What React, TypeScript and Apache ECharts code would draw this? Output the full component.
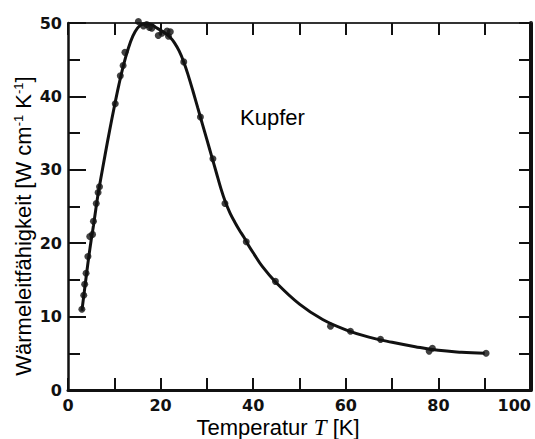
import React, { useEffect, useRef } from "react";
import * as echarts from "echarts";

// Fitted curve (T in K, conductivity in W cm^-1 K^-1)
const tCurve = [3, 3.5, 4, 4.5, 5, 5.5, 6, 6.5, 7, 8, 9, 10, 11, 12, 13, 14, 15, 16, 17, 18, 19, 20, 21, 22, 23, 24, 25, 26, 27, 28, 29, 30, 31, 32, 33, 34, 35, 36, 37, 38, 39, 40, 42, 45, 50, 55, 60, 65, 70, 75, 80, 85, 90];
const kCurve = [10.8, 13.3, 15.8, 18.2, 20.4, 22.4, 24.6, 26.7, 28.5, 32.0, 35.4, 38.6, 41.6, 44.3, 46.5, 48.2, 49.3, 49.8, 49.9, 49.8, 49.4, 49.0, 48.6, 48.1, 47.3, 46.2, 44.7, 42.8, 40.7, 38.5, 36.3, 34.1, 31.9, 29.7, 27.5, 25.6, 24.1, 22.9, 21.8, 20.8, 19.7, 18.7, 16.8, 14.6, 11.7, 9.6, 8.2, 7.2, 6.5, 5.9, 5.4, 5.15, 5.0];

// Measured points
const tPts = [3.0, 3.4, 3.6, 3.9, 4.3, 4.7, 5.3, 5.5, 6.1, 6.5, 6.8, 10.2, 11.3, 11.9, 12.3, 15.2, 16.3, 17.0, 17.6, 18.1, 19.5, 20.3, 21.4, 21.7, 22.1, 25.0, 28.6, 31.3, 33.9, 38.5, 44.8, 56.7, 61.0, 67.5, 78.0, 78.7, 90.3];
const kPts = [11.0, 12.9, 14.4, 15.9, 18.2, 20.9, 21.2, 23.0, 25.4, 26.9, 27.7, 39.0, 42.8, 44.2, 46.0, 50.2, 49.6, 49.8, 49.4, 49.3, 48.3, 48.6, 48.9, 48.2, 48.8, 44.7, 37.2, 31.5, 25.4, 20.2, 14.8, 8.7, 8.0, 6.9, 5.3, 5.7, 5.0];

const xLabelStep = 20;
const materialLabel = "Kupfer";
const xTitle = "Temperatur {it|T} [K]";
const yTitle = "Wärmeleitfähigkeit [W cm{sup|-1} K{sup|-1}]";

const INK = "#111";
const FONT = "Liberation Sans";
const TICK_FONT = "DejaVu Sans";

export default function App() {
  const ref = useRef<HTMLDivElement>(null);

  useEffect(() => {
    if (!ref.current) return;
    const chart = echarts.init(ref.current, null, { renderer: "svg" });

    const curve = tCurve.map((t, i) => [t, kCurve[i]]);
    const pts = tPts.map((t, i) => [t, kPts[i]]);

    const tickStyle = { color: INK, width: 2 };

    chart.setOption({
      animation: false,
      backgroundColor: "#fff",
      grid: {
        left: 68,
        right: 4,
        top: 23,
        bottom: 49,
        containLabel: false,
        outerBoundsMode: "none",
      },
      xAxis: [
        {
          type: "value",
          min: 0,
          max: 100,
          interval: 10,
          position: "bottom",
          axisLine: { show: true, onZero: false, lineStyle: { color: INK, width: 3 } },
          axisTick: { show: true, inside: true, length: 12, lineStyle: tickStyle },
          axisLabel: {
            margin: 7,
            color: INK,
            fontFamily: TICK_FONT,
            fontWeight: "bold",
            fontSize: 16,
            hideOverlap: false,
            alignMaxLabel: "right",
            formatter: (v: number) => (v % xLabelStep === 0 ? String(v) : ""),
          },
          splitLine: { show: false },
        },
        {
          type: "value",
          min: 0,
          max: 100,
          interval: 10,
          position: "top",
          axisLine: { show: true, onZero: false, lineStyle: { color: "#333", width: 2 } },
          axisTick: { show: true, inside: true, length: 12, lineStyle: tickStyle },
          axisLabel: { show: false },
          splitLine: { show: false },
        },
      ],
      yAxis: [
        {
          type: "value",
          min: 0,
          max: 50,
          interval: 10,
          position: "left",
          axisLine: { show: true, onZero: false, lineStyle: { color: INK, width: 2.5 } },
          axisTick: { show: true, inside: true, length: 18, lineStyle: tickStyle },
          minorTick: { show: true, splitNumber: 2, length: 12, lineStyle: tickStyle },
          axisLabel: {
            margin: 6,
            color: INK,
            fontFamily: TICK_FONT,
            fontWeight: "bold",
            fontSize: 16,
          },
          splitLine: { show: false },
        },
        {
          type: "value",
          min: 0,
          max: 50,
          interval: 5,
          position: "right",
          axisLine: { show: true, onZero: false, lineStyle: { color: INK, width: 4 } },
          axisTick: { show: true, inside: true, length: 12, lineStyle: tickStyle },
          axisLabel: { show: false },
          splitLine: { show: false },
        },
      ],
      series: [
        {
          type: "line",
          data: curve,
          xAxisIndex: 0,
          yAxisIndex: 0,
          smooth: 0.4,
          showSymbol: false,
          lineStyle: { color: INK, width: 3 },
          clip: false,
          silent: true,
        },
        {
          type: "scatter",
          data: pts,
          xAxisIndex: 0,
          yAxisIndex: 0,
          symbol: "circle",
          symbolSize: 7,
          itemStyle: { color: INK },
          clip: false,
          silent: true,
        },
      ],
      graphic: [
        {
          type: "text",
          left: 240,
          top: 106,
          style: { text: materialLabel, font: `22px "${FONT}"`, fill: "#000" },
        },
        {
          type: "text",
          x: 278,
          y: 427,
          style: {
            text: xTitle,
            fontFamily: FONT,
            fontSize: 22,
            fill: "#000",
            align: "center",
            verticalAlign: "middle",
            rich: {
              it: { fontFamily: "Liberation Serif", fontStyle: "italic", fontSize: 23, fill: "#000" },
            },
          },
        },
        {
          type: "text",
          x: 23,
          y: 226,
          rotation: Math.PI / 2,
          style: {
            text: yTitle,
            fontFamily: FONT,
            fontSize: 22,
            fill: "#000",
            align: "center",
            verticalAlign: "middle",
            rich: {
              sup: { fontFamily: FONT, fontSize: 13, verticalAlign: "top", fill: "#000" },
            },
          },
        },
      ],
    });

    return () => chart.dispose();
  }, []);

  return (
    <div
      ref={ref}
      style={{ position: "fixed", left: 0, top: 0, width: 535, height: 439, background: "#fff" }}
    />
  );
}
